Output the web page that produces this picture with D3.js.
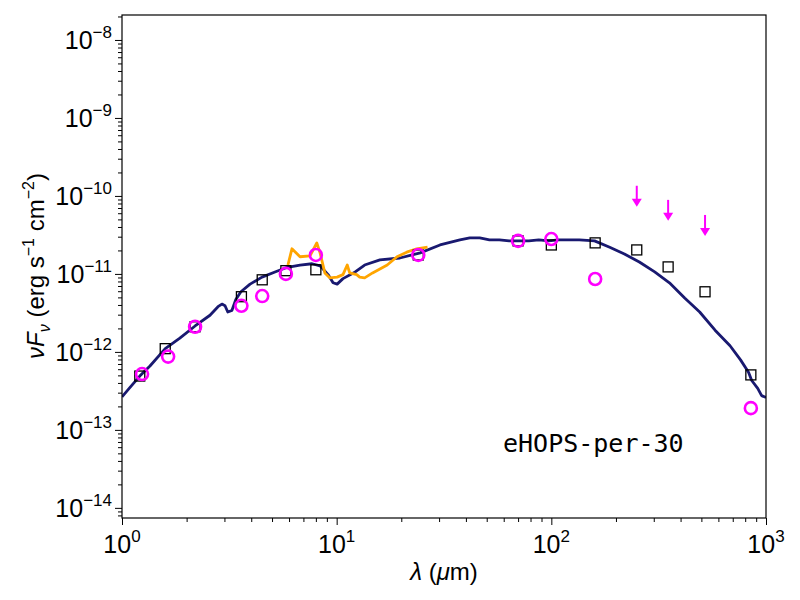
<!DOCTYPE html>
<html><head><meta charset="utf-8">
<script src="https://cdn.jsdelivr.net/npm/d3@7"></script>
<style>body{margin:0;background:#fff}text{font-family:"Liberation Sans",Arial,sans-serif}</style>
</head><body><svg id="c" width="800" height="600"></svg>
<script>
// model SED
const modelWave = [1.00,1.09,1.21,1.35,1.59,1.86,2.19,2.57,2.80,2.92,3.02,3.11,3.25,3.39,3.58,3.95,4.49,5.16,5.81,6.75,7.68,8.37,9.12,9.62,10.05,10.7,12.2,13.5,15.9,19.7,24.5,30.3,37.5,41.7,46.4,51.5,57.3,63.6,70.7,78.6,87.4,97.1,108,135,159,187,219,257,303,355,418,491,579,680,761,829,858,915,954,1000]
const modelFlux = [2.65e-13,3.5e-13,4.9e-13,6.6e-13,1.1e-12,1.5e-12,2.15e-12,2.95e-12,3.8e-12,4.1e-12,3.9e-12,3.25e-12,3.4e-12,4.7e-12,5.9e-12,7.4e-12,9.1e-12,1.06e-11,1.2e-11,1.3e-11,1.35e-11,1.27e-11,9.8e-12,7.7e-12,7.4e-12,8.7e-12,1.06e-11,1.3e-11,1.51e-11,1.6e-11,1.86e-11,2.35e-11,2.73e-11,2.9e-11,2.9e-11,2.73e-11,2.73e-11,2.65e-11,2.65e-11,2.65e-11,2.73e-11,2.65e-11,2.73e-11,2.73e-11,2.65e-11,2.2e-11,1.8e-11,1.42e-11,1.06e-11,7.7e-12,4.9e-12,3.25e-12,1.9e-12,1.2e-12,7.9e-13,5.5e-13,4.3e-13,3.4e-13,2.75e-13,2.6e-13]
// IRS spectrum
const irsWave = [5.93,6.19,6.75,7.51,8.08,8.37,8.81,9.29,10.05,10.7,11.2,11.5,12.4,12.8,13.5,14.7,17.2,19.1,21.2,23.6,26.5]
const irsFlux = [1.3e-11,2.1e-11,1.66e-11,1.7e-11,2.5e-11,1.86e-11,1.03e-11,8.9e-12,9.1e-12,9.8e-12,1.3e-11,1.03e-11,9.8e-12,9.1e-12,8.9e-12,1.03e-11,1.3e-11,1.66e-11,1.9e-11,2.1e-11,2.2e-11]
// photometry (squares)
const sqWave = [1.21,1.59,2.19,3.6,4.5,5.8,8.0,24,70,100,160,250,350,520,850]
const sqFlux = [4.9e-13,1.1e-12,2.1e-12,5.1e-12,8.4e-12,1.1e-11,1.13e-11,1.75e-11,2.65e-11,2.35e-11,2.5e-11,2.03e-11,1.23e-11,5.9e-12,5.07e-13]
// photometry (circles)
const ciWave = [1.24,1.64,2.19,3.6,4.5,5.8,8.0,24,70,100,160,850]
const ciFlux = [5.2e-13,8.7e-13,2.1e-12,3.9e-12,5.2e-12,1.0e-11,1.75e-11,1.75e-11,2.65e-11,2.8e-11,8.6e-12,1.9e-13]
// upper limits
const ulWave = [250,350,520]
const ulFlux = [1.35e-10,8.9e-11,5.7e-11]
const xTicks = [1,10,100,1000]
const yTicks = [1e-14,1e-13,1e-12,1e-11,1e-10,1e-9,1e-8]

const svg = d3.select("#c")
const L=122,R=766,T=15,B=518
const x = d3.scaleLog().domain([1,1000]).range([L,R])
const y = d3.scaleLog().domain([10**-14.13,10**-7.68]).range([B,T])

const minorX=[], minorY=[]
for(let e=0;e<3;e++) for(let k=2;k<10;k++) minorX.push(k*10**e)
for(let e=-15;e<-7;e++) for(let k=2;k<10;k++){const v=k*10**e; if(v>y.domain()[0]&&v<y.domain()[1]) minorY.push(v)}

const fmt = (t,txt)=>{const e=Math.round(Math.log10(t)); txt.append("tspan").text("10"); txt.append("tspan").attr("dy",-11).attr("font-size",17).text(e<0?"\u2212"+(-e):e)}

const xa = svg.append("g").attr("transform",`translate(0,${B})`)
xa.call(d3.axisBottom(x).tickValues(xTicks).tickSize(7).tickFormat(""))
xa.append("g").call(d3.axisBottom(x).tickValues(minorX).tickSize(4).tickFormat(""))
xa.selectAll("path").remove()
xa.selectAll("line").attr("stroke","#000").attr("stroke-width",1)
xTicks.forEach(t=>{const tx=xa.append("text").attr("x",x(t)).attr("y",35).attr("text-anchor","middle").attr("font-size",25).attr("fill","#000"); fmt(t,tx)})

const ya = svg.append("g").attr("transform",`translate(${L},0)`)
ya.call(d3.axisLeft(y).tickValues(yTicks).tickSize(7).tickFormat(""))
ya.append("g").call(d3.axisLeft(y).tickValues(minorY).tickSize(4).tickFormat(""))
ya.selectAll("path").remove()
ya.selectAll("line").attr("stroke","#000").attr("stroke-width",1)
yTicks.forEach(t=>{const tx=ya.append("text").attr("x",-10).attr("y",y(t)+9).attr("text-anchor","end").attr("font-size",25).attr("fill","#000"); fmt(t,tx)})

const clip = svg.append("clipPath").attr("id","cp").append("rect").attr("x",L).attr("y",T).attr("width",R-L).attr("height",B-T)
const g = svg.append("g").attr("clip-path","url(#cp)")
const line = d3.line().x(d=>x(d[0])).y(d=>y(d[1]))

g.append("path").datum(d3.zip(modelWave,modelFlux)).attr("d",line).attr("fill","none").attr("stroke","#191970").attr("stroke-width",2.8).attr("stroke-linejoin","round")
g.append("path").datum(d3.zip(irsWave,irsFlux)).attr("d",line).attr("fill","none").attr("stroke","#ffa500").attr("stroke-width",2.8).attr("stroke-linejoin","round")

g.selectAll(".sq").data(d3.zip(sqWave,sqFlux)).join("rect").attr("x",d=>x(d[0])-5).attr("y",d=>y(d[1])-5).attr("width",10).attr("height",10).attr("fill","none").attr("stroke","#000").attr("stroke-width",1.3)
g.selectAll(".ci").data(d3.zip(ciWave,ciFlux)).join("circle").attr("cx",d=>x(d[0])).attr("cy",d=>y(d[1])).attr("r",6).attr("fill","none").attr("stroke","#ff00ff").attr("stroke-width",2.6)

const ul = g.selectAll(".ul").data(d3.zip(ulWave,ulFlux)).join("g").attr("transform",d=>`translate(${x(d[0])},${y(d[1])})`)
ul.append("line").attr("x1",0).attr("x2",0).attr("y1",0).attr("y2",14).attr("stroke","#ff00ff").attr("stroke-width",2)
ul.append("path").attr("d","M-5,13L5,13L0,21Z").attr("fill","#ff00ff")

svg.append("rect").attr("x",L).attr("y",T).attr("width",R-L).attr("height",B-T).attr("fill","none").attr("stroke","#000").attr("stroke-width",1.2)

svg.append("text").attr("x",503).attr("y",452).attr("font-size",25).style("font-family","'DejaVu Sans Mono',monospace").text("eHOPS-per-30")

const xl = svg.append("text").attr("x",444).attr("y",580).attr("text-anchor","middle").attr("font-size",24)
xl.append("tspan").attr("font-style","italic").text("λ")
xl.append("tspan").text(" (")
xl.append("tspan").attr("font-style","italic").text("μ")
xl.append("tspan").text("m)")

const yl = svg.append("text").attr("transform","translate(44,266) rotate(-90)").attr("text-anchor","middle").attr("font-size",24)
yl.append("tspan").attr("font-style","italic").text("νF")
yl.append("tspan").attr("font-style","italic").attr("font-size",16).attr("dy",6).text("ν")
yl.append("tspan").attr("dy",-6).text(" (erg s")
yl.append("tspan").attr("dy",-10).attr("font-size",16).text("−1")
yl.append("tspan").attr("dy",10).text(" cm")
yl.append("tspan").attr("dy",-10).attr("font-size",16).text("−2")
yl.append("tspan").attr("dy",10).text(")")
</script></body></html>
